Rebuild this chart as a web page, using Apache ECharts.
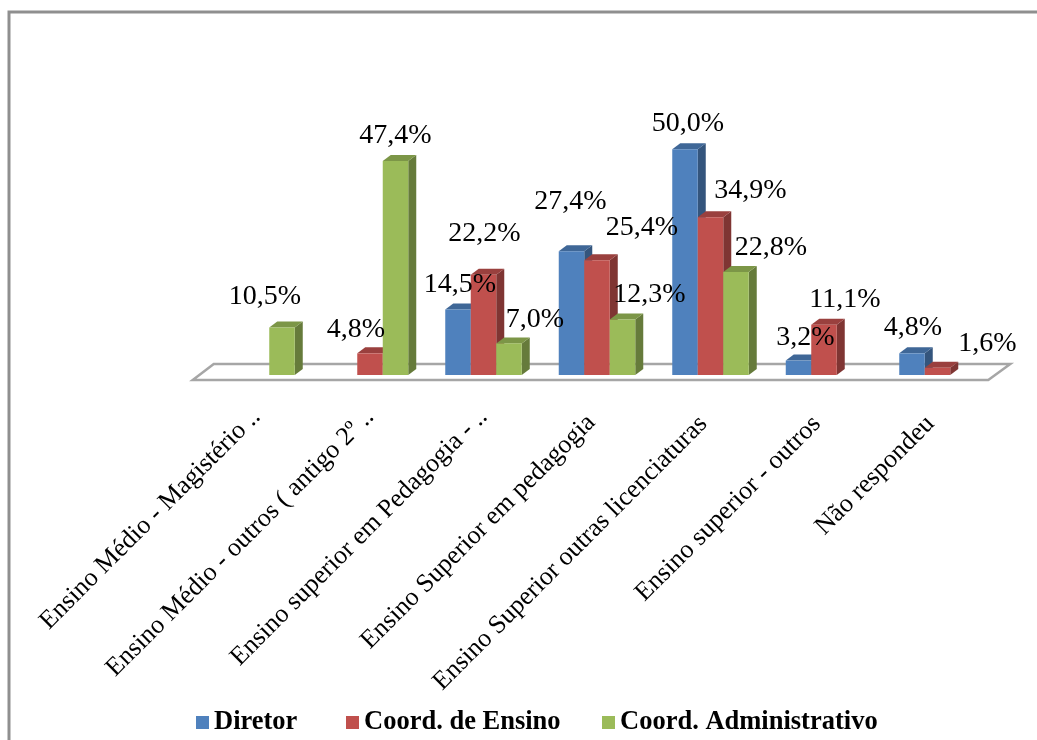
<!DOCTYPE html>
<html>
<head>
<meta charset="utf-8">
<style>html,body{margin:0;padding:0;background:#fff}#chart{width:1037px;height:740px}</style>
<script src="https://cdn.jsdelivr.net/npm/echarts@6/dist/echarts.min.js"></script>
</head>
<body>
<div id="chart"></div>
<script>
const categories = [
  'Ensino Médio - Magistério ..',
  'Ensino Médio - outros ( antigo 2º ..',
  'Ensino superior em Pedagogia - ..',
  'Ensino Superior em pedagogia',
  'Ensino Superior outras licenciaturas',
  'Ensino superior - outros',
  'Não respondeu'
];
const diretor = [null, null, 14.5, 27.4, 50.0, 3.2, 4.8];
const coordEnsino = [null, 4.8, 22.2, 25.4, 34.9, 11.1, 1.6];
const coordAdministrativo = [10.5, 47.4, 7.0, 12.3, 22.8, null, null];

// Label shifts from the top centre of each bar, so crowded labels stay clear.
const diretorLabelShift = [null, null, [2, -25], [-1, -50], [3, -26], [7, -23], [1, -26]];
const ensinoLabelShift = [null, [-14, -24], [1, -41], [45, -33], [40, -27], [21, -25], [50, -24]];
const adminLabelShift = [[-17, -31], [0, -25], [26, -24], [27, -25], [35, -24], null, null];

// Extra gap between each full-length axis label and the floor edge.
const axisLabelPad = [0, 0, 0, 8, 10, 10, 10];

const barFactor = 113.5 / 25.5;
const depthX = 8, depthY = 6;

function shade(hex, k) {
  const n = parseInt(hex.slice(1), 16);
  const f = c => Math.round(c * k);
  return `rgb(${f(n >> 16)},${f((n >> 8) & 255)},${f(n & 255)})`;
}

// Extruded column: front face, top face, side face, plus its value label.
function columnRenderer(slot, color, labelShift) {
  return function (params, api) {
    const v = api.value(1);
    const idx = api.value(0);
    if (v == null || isNaN(v)) return;
    const base = api.coord([idx, 0]);
    const top = api.coord([idx, v]);
    const w = api.size([1, 0])[0] / barFactor;
    const x0 = base[0] + (slot - 1.5) * w;
    const x1 = x0 + w;
    const yT = top[1], yB = base[1];
    const shift = labelShift[idx];
    return {
      type: 'group',
      children: [
        { type: 'polygon', z2: 1, shape: { points: [[x1, yT], [x1 + depthX, yT - depthY], [x1 + depthX, yB - depthY], [x1, yB]] }, style: { fill: shade(color, 0.66) } },
        { type: 'polygon', z2: 1, shape: { points: [[x0, yT], [x0 + depthX, yT - depthY], [x1 + depthX, yT - depthY], [x1, yT]] }, style: { fill: shade(color, 0.8) } },
        { type: 'rect', z2: 2, shape: { x: x0, y: yT, width: w, height: yB - yT }, style: { fill: color } },
        { type: 'text', z2: 50, style: {
            x: (x0 + x1) / 2 + shift[0], y: yT + shift[1],
            text: v.toFixed(1).replace('.', ',') + '%',
            align: 'center', verticalAlign: 'middle',
            font: '28px "Liberation Serif"', fill: '#000'
        } }
      ]
    };
  };
}

// The floor plate under the columns, built from the plot's zero line.
function floorRenderer(params, api) {
  const y = api.coord([0, 0])[1];
  const cs = params.coordSys;
  const l = cs.x, r = cs.x + cs.width;
  return {
    type: 'polygon', z2: 0,
    shape: { points: [[l - 7, y + 5], [r - 6, y + 5], [r + 16, y - 11], [l + 14, y - 11]] },
    style: { fill: '#fff', stroke: '#a6a6a6', lineWidth: 2.5 }
  };
}

const toRows = arr => arr.map((v, i) => [i, v]);
const encode = { x: 0, y: 1 };

const legendText = { fontFamily: 'Liberation Serif', fontWeight: 'bold', fontSize: 26.5, color: '#000' };
const legendEntry = (name, left) => ({
  left, top: 704, itemWidth: 13, itemHeight: 13, icon: 'rect', textStyle: legendText, data: [name]
});

const chart = echarts.init(document.getElementById('chart'), null, { renderer: 'canvas' });
chart.setOption({
  animation: false,
  backgroundColor: '#fff',
  graphic: [{
    type: 'rect', silent: true, z: -1,
    shape: { x: 9, y: 12, width: 1100, height: 800 },
    style: { fill: 'none', stroke: '#8f8f8f', lineWidth: 3 }
  }],
  grid: { left: 199.75, width: 794.5, top: 104, height: 271 },
  xAxis: {
    type: 'category',
    data: categories.map((value, i) => ({ value, textStyle: { padding: [0, axisLabelPad[i], 0, 0] } })),
    axisLine: { show: false }, axisTick: { show: false }, splitLine: { show: false },
    axisLabel: { interval: 0, rotate: 45, margin: 38, hideOverlap: false,
      fontFamily: 'Liberation Serif', fontSize: 26, color: '#000' }
  },
  yAxis: { type: 'value', min: 0, max: 60, show: false },
  legend: [
    legendEntry('Diretor', 191),
    legendEntry('Coord. de Ensino', 341),
    legendEntry('Coord. Administrativo', 597)
  ],
  series: [
    { type: 'custom', name: 'floor', silent: true, data: [[0, 0]], encode, renderItem: floorRenderer },
    { type: 'custom', name: 'Diretor', data: toRows(diretor), encode, itemStyle: { color: '#4f81bd' }, renderItem: columnRenderer(0, '#4f81bd', diretorLabelShift) },
    { type: 'custom', name: 'Coord. de Ensino', data: toRows(coordEnsino), encode, itemStyle: { color: '#c0504d' }, renderItem: columnRenderer(1, '#c0504d', ensinoLabelShift) },
    { type: 'custom', name: 'Coord. Administrativo', data: toRows(coordAdministrativo), encode, itemStyle: { color: '#9bbb59' }, renderItem: columnRenderer(2, '#9bbb59', adminLabelShift) }
  ]
});
</script>
</body>
</html>
